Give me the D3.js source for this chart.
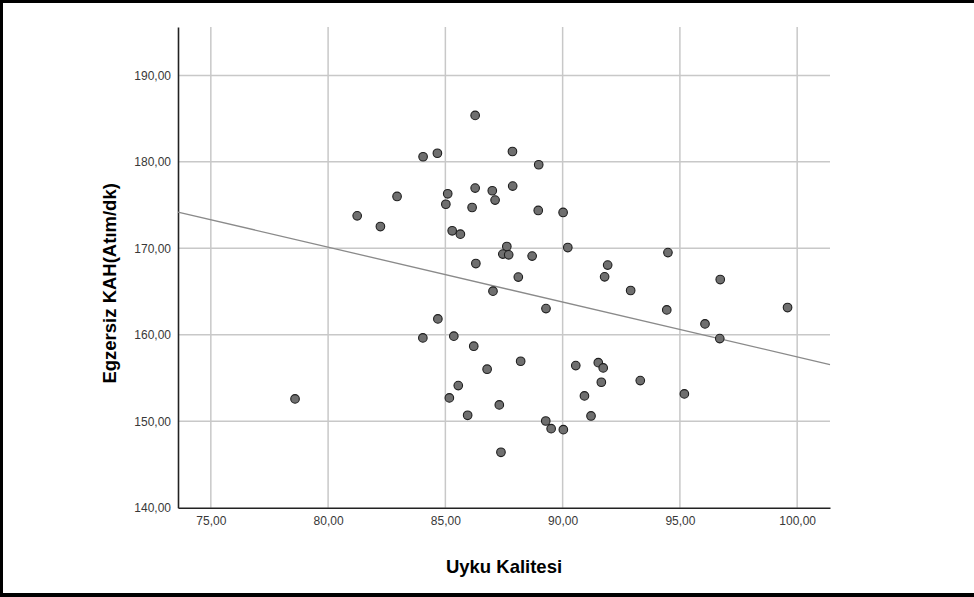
<!DOCTYPE html>
<html>
<head>
<meta charset="utf-8">
<script src="https://cdn.jsdelivr.net/npm/d3@7"></script>
<style>
  html, body { margin: 0; padding: 0; background: #fff; }
  svg { display: block; font-family: "Liberation Sans", Arial, sans-serif; }
</style>
</head>
<body>
<script>
// Uyku Kalitesi (x) vs Egzersiz KAH (y)
let uykuKalitesi = [78.59, 81.24, 82.23, 82.94, 84.05, 84.66, 84.04, 84.68, 85.10, 85.02,
    85.29, 85.64, 85.36, 85.55, 85.17, 85.95, 86.27, 86.27, 86.14, 86.30,
    86.21, 86.78, 87.00, 87.12, 87.03, 87.30, 87.37, 87.62, 87.45, 87.70,
    87.86, 87.87, 88.11, 88.21, 88.70, 88.96, 88.98, 89.29, 89.28, 89.51,
    90.02, 90.22, 90.03, 90.56, 90.93, 91.21, 91.52, 91.73, 91.65, 91.79,
    91.92, 92.90, 93.31, 94.49, 94.44, 95.19, 96.07, 96.72, 96.70, 99.59]
let egzersizKAH = [152.58, 173.76, 172.52, 176.00, 180.59, 181.00, 159.64, 161.84, 176.31, 175.10,
    172.03, 171.64, 159.84, 154.12, 152.70, 150.69, 185.37, 176.97, 174.72, 168.24,
    158.68, 156.02, 176.66, 175.58, 165.05, 151.89, 146.41, 170.21, 169.33, 169.25,
    181.20, 177.20, 166.67, 156.94, 169.10, 174.38, 179.67, 163.03, 150.03, 149.14,
    174.15, 170.09, 149.03, 156.44, 152.93, 150.61, 156.78, 156.17, 154.51, 166.70,
    168.06, 165.12, 154.70, 169.51, 162.88, 153.16, 161.26, 166.39, 159.56, 163.15]
// regression line ends
let fitX = [73.6, 101.4]
let fitY = [174.2, 156.55]
let xTicks = [75, 80, 85, 90, 95, 100]
let yTicks = [140, 150, 160, 170, 180, 190]

let w = 974, h = 597
let pLeft = 178, pRight = 830, pTop = 27, pBottom = 507.7

let svg = d3.select("body").append("svg").attr("width", w).attr("height", h)

// page frame (top, bottom, left)
svg.append("rect").attr("x", 0).attr("y", 0).attr("width", w).attr("height", 3).attr("fill", "#000")
svg.append("rect").attr("x", 0).attr("y", 593).attr("width", w).attr("height", 4).attr("fill", "#000")
svg.append("rect").attr("x", 0).attr("y", 0).attr("width", 3).attr("height", h).attr("fill", "#000")

let xScale = d3.scaleLinear().domain([73.6, 101.4]).range([pLeft, pRight])
let yScale = d3.scaleLinear().domain([140, 195.6]).range([pBottom, pTop])
let fmt = d => d.toFixed(2).replace(".", ",")

// grid
svg.append("g").selectAll("line")
    .data(xTicks)
    .enter().append("line")
    .attr("x1", d => xScale(d)).attr("x2", d => xScale(d))
    .attr("y1", pTop).attr("y2", pBottom)
    .attr("stroke", "#c8c8c8").attr("stroke-width", 1.5)
svg.append("g").selectAll("line")
    .data(yTicks.filter(d => d > 140))
    .enter().append("line")
    .attr("x1", pLeft).attr("x2", pRight)
    .attr("y1", d => yScale(d)).attr("y2", d => yScale(d))
    .attr("stroke", "#c8c8c8").attr("stroke-width", 1.5)

// axes
let yAxis = d3.axisLeft(yScale).tickValues(yTicks).tickSize(0).tickSizeOuter(0).tickPadding(7).tickFormat(fmt)
let xAxis = d3.axisBottom(xScale).tickValues(xTicks).tickSize(0).tickSizeOuter(0).tickPadding(9).tickFormat(fmt)
let gy = svg.append("g").attr("transform", `translate(${pLeft},0)`).call(yAxis)
let gx = svg.append("g").attr("transform", `translate(0,${pBottom})`).call(xAxis)
;[gx, gy].forEach(g => {
    g.select(".domain").attr("stroke", "#222").attr("stroke-width", 1.6)
    g.selectAll("text").attr("fill", "#383838").attr("font-size", 12)
        .attr("font-family", "'Liberation Sans', Arial, sans-serif")
})

// regression line
svg.append("line")
    .attr("x1", xScale(fitX[0])).attr("y1", yScale(fitY[0]))
    .attr("x2", xScale(fitX[1])).attr("y2", yScale(fitY[1]))
    .attr("stroke", "#8a8a8a").attr("stroke-width", 1.3)

// points
svg.append("g").selectAll("circle")
    .data(uykuKalitesi.map((x, i) => [x, egzersizKAH[i]]))
    .enter().append("circle")
    .attr("cx", d => xScale(d[0]))
    .attr("cy", d => yScale(d[1]))
    .attr("r", 4.3)
    .attr("fill", "#6f6f6f")
    .attr("stroke", "#1e1e1e")
    .attr("stroke-width", 1.1)

// titles
svg.append("text")
    .attr("x", 504).attr("y", 573)
    .attr("text-anchor", "middle")
    .attr("font-size", 18.5).attr("font-weight", "bold").attr("fill", "#000")
    .text("Uyku Kalitesi")
svg.append("text")
    .attr("transform", `translate(116,${(pTop + pBottom) / 2 + 16}) rotate(-90)`)
    .attr("text-anchor", "middle")
    .attr("font-size", 18.5).attr("font-weight", "bold").attr("fill", "#000")
    .text("Egzersiz KAH(Atım/dk)")
</script>
</body>
</html>
